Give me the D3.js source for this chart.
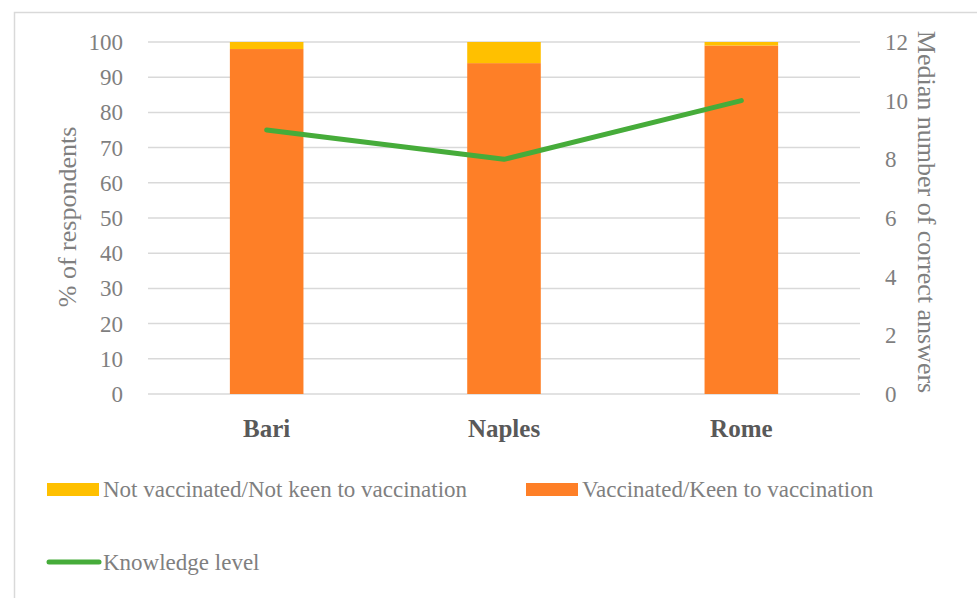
<!DOCTYPE html>
<html>
<head>
<meta charset="utf-8">
<script src="https://cdn.jsdelivr.net/npm/d3@7"></script>
<style>
  body { margin: 0; background: #fff; }
  text { font-family: "Liberation Serif", "DejaVu Serif", serif; }
</style>
</head>
<body>
<div id="chart"></div>
<script>
const cities = ["Bari", "Naples", "Rome"];
const vaccinated = [98, 94, 99];
const notVaccinated = [2, 6, 1];
const knowledge = [9, 8, 10];
const leftTicks = [0, 10, 20, 30, 40, 50, 60, 70, 80, 90, 100];
const rightTicks = [0, 2, 4, 6, 8, 10, 12];

const W = 977, H = 598;
const plot = { left: 148, right: 860, top: 42, bottom: 394 };

const svg = d3.select("#chart").append("svg")
  .attr("width", W).attr("height", H);

// outer chart border
svg.append("rect")
  .attr("x", 14.5).attr("y", 12.5)
  .attr("width", 1000).attr("height", 700)
  .attr("fill", "none").attr("stroke", "#d9d9d9").attr("stroke-width", 1.5);

const x = d3.scaleBand().domain(cities).range([plot.left, plot.right]).paddingInner(0.69).paddingOuter(0.345);
const y = d3.scaleLinear().domain([0, 100]).range([plot.bottom, plot.top]);
const y2 = d3.scaleLinear().domain([0, 12]).range([plot.bottom, plot.top]);

// gridlines
svg.append("g").selectAll("line")
  .data(leftTicks).enter().append("line")
  .attr("x1", plot.left).attr("x2", plot.right)
  .attr("y1", d => y(d)).attr("y2", d => y(d))
  .attr("stroke", "#d9d9d9").attr("stroke-width", 1.5);

// left axis labels
svg.append("g").selectAll("text")
  .data(leftTicks).enter().append("text")
  .attr("x", 123).attr("y", d => y(d))
  .attr("dy", "0.35em")
  .attr("text-anchor", "end")
  .attr("font-size", 23).attr("fill", "#7f7f7f")
  .text(d => d);

// right axis labels
svg.append("g").selectAll("text")
  .data(rightTicks).enter().append("text")
  .attr("x", 885).attr("y", d => y2(d))
  .attr("dy", "0.35em")
  .attr("text-anchor", "start")
  .attr("font-size", 23).attr("fill", "#7f7f7f")
  .text(d => d);

// axis titles
svg.append("text")
  .attr("transform", "translate(76,217) rotate(-90)")
  .attr("text-anchor", "middle")
  .attr("font-size", 26).attr("fill", "#7f7f7f")
  .text("% of respondents");

svg.append("text")
  .attr("transform", "translate(918,212) rotate(90)")
  .attr("text-anchor", "middle")
  .attr("font-size", 26).attr("fill", "#7f7f7f")
  .text("Median number of correct answers");

// bars
svg.append("g").selectAll("rect")
  .data(cities).enter().append("rect")
  .attr("x", d => x(d)).attr("width", x.bandwidth())
  .attr("y", (d, i) => y(vaccinated[i]))
  .attr("height", (d, i) => y(0) - y(vaccinated[i]))
  .attr("fill", "#fe7f27");

svg.append("g").selectAll("rect")
  .data(cities).enter().append("rect")
  .attr("x", d => x(d)).attr("width", x.bandwidth())
  .attr("y", (d, i) => y(vaccinated[i] + notVaccinated[i]))
  .attr("height", (d, i) => y(vaccinated[i]) - y(vaccinated[i] + notVaccinated[i]))
  .attr("fill", "#ffc000");

// knowledge line
const line = d3.line()
  .x((d, i) => x(cities[i]) + x.bandwidth() / 2)
  .y(d => y2(d));
svg.append("path")
  .datum(knowledge)
  .attr("d", line)
  .attr("fill", "none")
  .attr("stroke", "#46ac3a").attr("stroke-width", 5)
  .attr("stroke-linecap", "round").attr("stroke-linejoin", "round");

// category labels
svg.append("g").selectAll("text")
  .data(cities).enter().append("text")
  .attr("x", d => x(d) + x.bandwidth() / 2).attr("y", 437)
  .attr("text-anchor", "middle")
  .attr("font-size", 25).attr("font-weight", "bold").attr("fill", "#595959")
  .text(d => d);

// legend
const legend = svg.append("g");
const items = [
  { label: "Not vaccinated/Not keen to vaccination", color: "#ffc000", x: 47, y: 489, type: "rect" },
  { label: "Vaccinated/Keen to vaccination", color: "#fe7f27", x: 526, y: 489, type: "rect" },
  { label: "Knowledge level", color: "#46ac3a", x: 47, y: 562, type: "line" }
];
items.forEach(it => {
  if (it.type === "rect") {
    legend.append("rect")
      .attr("x", it.x).attr("y", it.y - 6).attr("width", 52).attr("height", 13)
      .attr("fill", it.color);
  } else {
    legend.append("line")
      .attr("x1", it.x + 2).attr("x2", it.x + 52)
      .attr("y1", it.y).attr("y2", it.y)
      .attr("stroke", it.color).attr("stroke-width", 5).attr("stroke-linecap", "round");
  }
  legend.append("text")
    .attr("x", it.x + 56).attr("y", it.y)
    .attr("dy", "0.35em")
    .attr("font-size", 23).attr("fill", "#7f7f7f")
    .text(it.label);
});
</script>
</body>
</html>
